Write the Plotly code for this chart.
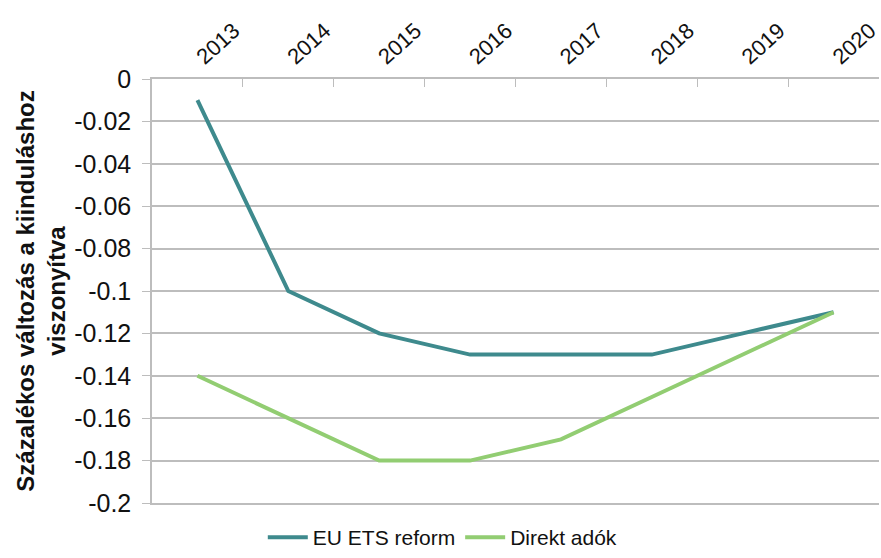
import plotly.graph_objects as go

years = ["2013", "2014", "2015", "2016", "2017", "2018", "2019", "2020"]
eu_ets_reform = [-0.01, -0.10, -0.12, -0.13, -0.13, -0.13, -0.12, -0.11]
direkt_adok = [-0.14, -0.16, -0.18, -0.18, -0.17, -0.15, -0.13, -0.11]
y_ticks = [0, -0.02, -0.04, -0.06, -0.08, -0.1, -0.12, -0.14, -0.16, -0.18, -0.2]

FONT = "Liberation Sans, Arial, sans-serif"
GRID = "#BDBDBD"

fig = go.Figure()
fig.add_trace(go.Scatter(x=years, y=eu_ets_reform, mode="lines", name="EU ETS reform",
                         line=dict(color="#3E8A8D", width=4)))
fig.add_trace(go.Scatter(x=years, y=direkt_adok, mode="lines", name="Direkt adók",
                         line=dict(color="#92CD72", width=4)))

fig.update_layout(
    width=881, height=558,
    margin=dict(l=152, r=2, t=79, b=55, autoexpand=False),
    plot_bgcolor="white", paper_bgcolor="white",
    font=dict(family=FONT, size=24, color="#111111"),
    showlegend=True,
    legend=dict(orientation="h", x=0.40, xanchor="center",
                yref="container", y=0.0, yanchor="bottom",
                font=dict(size=21), itemwidth=40, tracegroupgap=0),
    xaxis=dict(
        type="category", side="top", range=[-0.5, 7.5],
        tickangle=-42, tickson="boundaries", ticks="inside", ticklen=8,
        tickcolor=GRID, showline=True, mirror=True, linecolor=GRID, linewidth=1.5,
        showgrid=False, tickfont=dict(size=22),
    ),
    yaxis=dict(
        range=[-0.2, 0], tickvals=y_ticks,
        ticktext=[("%g" % v) for v in y_ticks],
        ticks="outside", ticklen=8, tickcolor=GRID, ticklabelstandoff=6,
        showline=True, linecolor=GRID, linewidth=1.5,
        showgrid=True, gridcolor=GRID, gridwidth=1.5,
        zeroline=False, tickfont=dict(size=25),
        title=dict(text="<b>Százalékos változás a kiinduláshoz<br>viszonyítva</b>",
                   font=dict(size=24), standoff=2),
    ),
)

fig.write_html("out.html")
